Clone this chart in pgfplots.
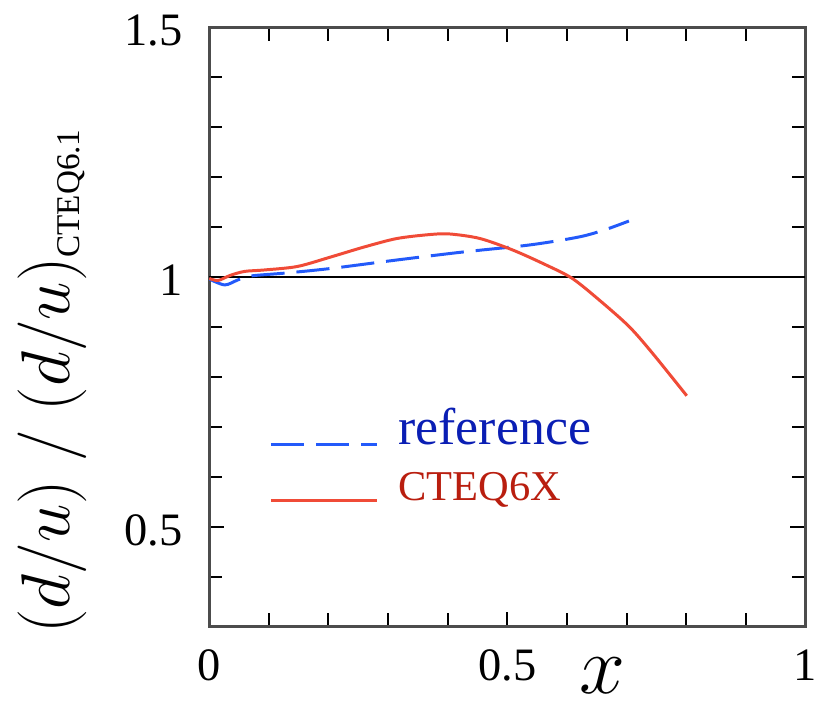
\documentclass[border=0pt]{standalone}
\usepackage{fontspec}
\setmainfont{Liberation Serif}
\usepackage{pgfplots}
\pgfplotsset{compat=1.18}

\definecolor{refblue}{RGB}{35,90,250}
\definecolor{cteqred}{RGB}{240,75,55}
\definecolor{txtblue}{RGB}{10,30,180}
\definecolor{txtred}{RGB}{185,30,15}

\begin{document}
\begin{tikzpicture}
\begin{axis}[
    scale only axis,
    width=179.7pt, height=180.6pt,
    xmin=0, xmax=1,
    ymin=0.3, ymax=1.5,
    xtick={0,0.5,1}, xticklabels={0,0.5,1},
    ytick={0.5,1,1.5}, yticklabels={0.5,1,1.5},
    minor xtick={0.1,0.2,0.3,0.4,0.6,0.7,0.8,0.9},
    minor ytick={0.4,0.6,0.7,0.8,0.9,1.1,1.2,1.3,1.4},
    tick align=inside,
    major tick length=4.5pt, minor tick length=4pt,
    every tick/.style={black, line width=0.6pt},
    axis line style={line width=0.9pt, black!70},
    tick label style={font=\fontsize{14}{16}\selectfont, inner sep=0pt},
    xticklabel style={anchor=north, yshift=-6.9pt},
    yticklabel style={anchor=east, xshift=-7.8pt, yshift=-1pt, inner ysep=4.5pt},
    xlabel={\fontsize{23}{26}\selectfont $x$},
    xlabel style={at={(axis description cs:0.66,-0.082)}, anchor=center,
        inner xsep=0pt, inner ysep=2pt},
    ylabel={\fontsize{22.5}{26}\selectfont $(d/u)\ /\ (d/u)_{\mbox{\fontsize{10}{11}\selectfont CTEQ6.1}}$},
    ylabel style={at={(axis description cs:-0.352,0.41)}, anchor=north,
        inner xsep=0pt, inner ysep=5.4pt},
    legend image code/.code={\draw[#1] (0pt,0pt) -- (32pt,0pt); \path (36pt,0pt);},
    legend cell align=left,
    legend style={draw=none, fill=none, at={(axis cs:0.1,0.752)}, anchor=north west,
        inner sep=0pt, row sep=3pt,
        nodes={inner sep=2pt, anchor=base west}},
]

\addplot[black, line width=0.6pt, forget plot] coordinates {(0,1)(1,1)};

\addplot[refblue, line width=0.9pt, dash pattern=on 10pt off 3.6pt, smooth] coordinates {
    (0,0.996)(0.026,0.984)(0.048,0.994)(0.07,1.002)(0.13,1.008)(0.204,1.017)
    (0.315,1.034)(0.426,1.050)(0.537,1.064)(0.620,1.080)(0.665,1.095)(0.704,1.112)
};
\addlegendentry{\fontsize{15.6}{17}\selectfont\color{txtblue}reference}

\addplot[cteqred, line width=0.9pt, smooth] coordinates {
    (0,0.997)(0.015,0.993)(0.035,1.003)(0.059,1.011)(0.093,1.014)(0.148,1.021)
    (0.204,1.040)(0.26,1.060)(0.315,1.077)(0.371,1.085)(0.404,1.086)(0.454,1.077)
    (0.509,1.054)(0.565,1.024)(0.609,0.997)(0.654,0.954)(0.704,0.901)(0.743,0.848)
    (0.801,0.762)
};
\addlegendentry{\fontsize{12.8}{14}\selectfont\color{txtred}CTEQ6X}

\end{axis}
\end{tikzpicture}
\end{document}
